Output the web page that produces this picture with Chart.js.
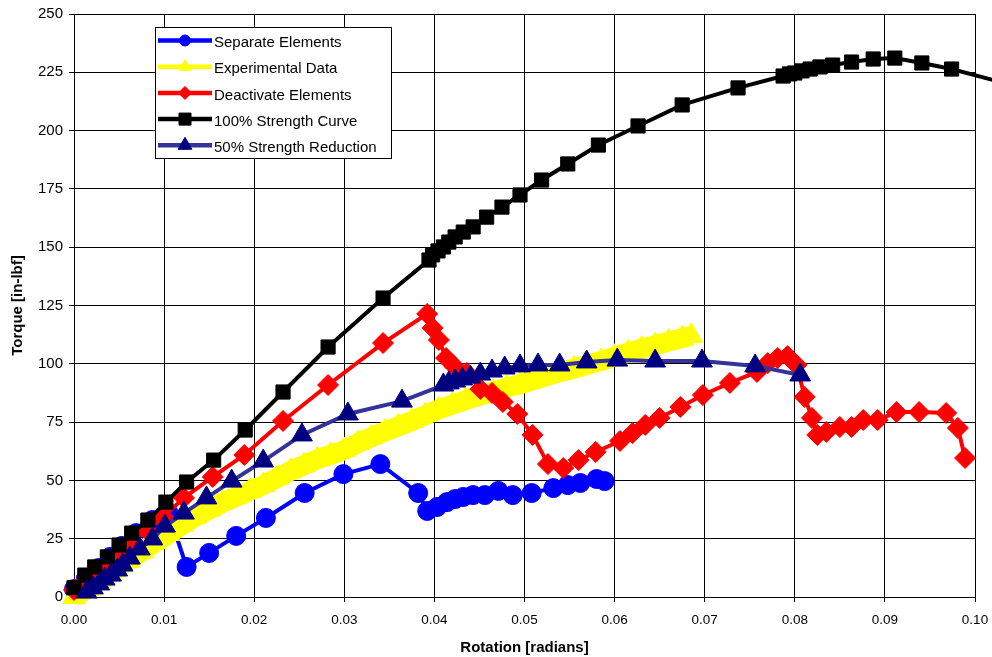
<!DOCTYPE html>
<html><head><meta charset="utf-8">
<script src="https://cdn.jsdelivr.net/npm/chart.js@4.4.1/dist/chart.umd.min.js"></script>
<style>html,body{margin:0;padding:0;background:#fff}#c{display:block}</style>
</head><body>
<canvas id="c" width="992" height="657"></canvas>
<script>
const xTickLabels = ['0.00','0.01','0.02','0.03','0.04','0.05','0.06','0.07','0.08','0.09','0.10'];
const yTickLabels = ['0','25','50','75','100','125','150','175','200','225','250'];
const seriesNames = ['Separate Elements','Experimental Data','Deactivate Elements','100% Strength Curve','50% Strength Reduction'];

const sepX = [0.0000,0.0013,0.0027,0.0040,0.0053,0.0069,0.0087,0.0105,0.0125,0.0150,0.0180,0.0213,0.0256,0.0299,0.0340,0.0382,0.0392,0.0403,0.0414,0.0423,0.0432,0.0443,0.0456,0.0471,0.0487,0.0508,0.0532,0.0548,0.0562,0.0580,0.0589];
const sepY = [3.4,7.7,12.4,17.2,21.9,27.4,33.0,36.0,12.9,18.9,26.2,33.9,44.6,52.7,57.0,44.6,36.9,38.6,40.7,42.0,42.9,43.7,43.7,45.5,43.7,44.6,46.7,48.0,48.9,50.6,49.7];

const expX = [0.0000,0.0015,0.0030,0.0045,0.0060,0.0075,0.0090,0.0105,0.0120,0.0135,0.0150,0.0165,0.0180,0.0195,0.0210,0.0225,0.0240,0.0255,0.0270,0.0285,0.0300,0.0315,0.0330,0.0345,0.0360,0.0375,0.0390,0.0405,0.0420,0.0435,0.0450,0.0465,0.0480,0.0495,0.0510,0.0525,0.0540,0.0555,0.0570,0.0585,0.0600,0.0615,0.0630,0.0645,0.0660,0.0675,0.0685];
const expY = [0,3.5,7.5,11.5,15.5,19.5,23.5,27,31,34.5,37.5,40.5,43,45.5,48,51,54,56.5,59,61,63,66,68.5,71,73.2,75.5,78,80.5,82.5,84.5,86.3,88,89.8,91.2,93,94.8,96.5,98,99.6,101.2,103,104.8,106.5,108,109.5,111,112];

const deaX = [0.0000,0.0012,0.0024,0.0038,0.0051,0.0065,0.0081,0.0099,0.0122,0.0154,0.0189,0.0232,0.0282,0.0343,0.0392,0.0398,0.0405,0.0413,0.0423,0.0436,0.0451,0.0464,0.0476,0.0492,0.0509,0.0526,0.0543,0.0560,0.0579,0.0606,0.0620,0.0634,0.0650,0.0673,0.0698,0.0728,0.0758,0.0770,0.0781,0.0792,0.0802,0.0811,0.0819,0.0825,0.0835,0.0850,0.0863,0.0876,0.0892,0.0913,0.0938,0.0968,0.0981,0.0989];
const deaY = [3.0,6.9,10.7,15.0,19.7,24.0,28.7,34.3,42.5,51.5,60.9,75.5,90.9,108.9,121.4,115.4,110.2,102.5,98.6,96.1,89.2,87.5,83.6,78.5,69.5,57.0,55.3,58.7,62.2,66.9,70.3,73.8,76.8,81.5,86.6,91.8,96.5,100.3,102.5,103.3,99.5,85.8,76.8,69.5,70.8,72.9,72.9,75.9,75.9,79.3,79.3,78.9,72.5,59.6];

const fullX = [0.0000,0.0012,0.0023,0.0037,0.0050,0.0064,0.0082,0.0102,0.0125,0.0155,0.0190,0.0232,0.0282,0.0343,0.0394,0.0398,0.0404,0.0410,0.0416,0.0423,0.0432,0.0443,0.0458,0.0475,0.0495,0.0519,0.0548,0.0582,0.0626,0.0675,0.0737,0.0787,0.0794,0.0800,0.0808,0.0817,0.0828,0.0842,0.0863,0.0887,0.0911,0.0941,0.0974,0.1020];
const fullY = [4.0,9.4,12.9,17.2,22.3,27.4,33.0,40.7,49.3,58.7,71.6,87.9,107.2,128.2,144.5,146.7,148.4,150.1,152.2,154.4,156.5,158.7,162.9,167.2,172.4,178.8,185.7,193.8,202.0,211.0,218.3,223.4,224.3,224.7,225.6,226.4,227.3,228.1,229.4,230.7,231.1,229.0,226.4,221.7];

const halfX = [0.0014,0.0021,0.0028,0.0034,0.0041,0.0048,0.0054,0.0062,0.0073,0.0087,0.0101,0.0122,0.0147,0.0175,0.0210,0.0253,0.0304,0.0364,0.0410,0.0416,0.0423,0.0431,0.0440,0.0451,0.0464,0.0478,0.0495,0.0515,0.0539,0.0569,0.0603,0.0645,0.0697,0.0756,0.0806];
const halfY = [2.1,3.9,5.6,7.7,9.4,11.6,13.7,16.7,20.6,24.9,30.4,36.0,42.5,49.7,58.3,69.5,78.5,84.0,90.9,91.8,92.6,93.5,94.3,95.6,96.9,98.2,99.1,99.5,99.5,100.8,101.6,101.2,101.2,99.1,95.2];

const pts = (xs, ys) => xs.map((x, i) => ({x, y: ys[i]}));

const FONT = "'Liberation Sans', Arial, sans-serif";
Chart.defaults.font.family = FONT;
Chart.defaults.color = '#000';

const datasets = [
  {label: seriesNames[0], data: pts(sepX, sepY), order: 5,
   borderColor: '#0000FF', backgroundColor: '#0000FF', borderWidth: 4,
   pointStyle: 'circle', pointRadius: 9.5, pointBorderWidth: 1,
   pointBackgroundColor: '#0000FF', pointBorderColor: '#0000FF', legendRadius: 5.5},
  {label: seriesNames[1], data: pts(expX, expY), order: 4,
   borderColor: '#FFFF00', backgroundColor: '#FFFF00', borderWidth: 20,
   pointStyle: 'triangle', pointRadius: 13, pointBorderWidth: 1,
   pointBackgroundColor: '#FFFF00', pointBorderColor: '#FFFF00', legendRadius: 7},
  {label: seriesNames[2], data: pts(deaX, deaY), order: 3,
   borderColor: '#FF0000', backgroundColor: '#FF0000', borderWidth: 4,
   pointStyle: 'rectRot', pointRadius: 10.5, pointBorderWidth: 1,
   pointBackgroundColor: '#FF0000', pointBorderColor: '#FF0000', legendRadius: 6.5},
  {label: seriesNames[3], data: pts(fullX, fullY), order: 2,
   borderColor: '#000000', backgroundColor: '#000000', borderWidth: 4,
   pointStyle: 'rect', pointRadius: (c) => c.dataIndex === fullX.length - 1 ? 0 : 10, pointBorderWidth: 1,
   pointBackgroundColor: '#000000', pointBorderColor: '#000000', legendRadius: 8.5},
  {label: seriesNames[4], data: pts(halfX, halfY), order: 1,
   borderColor: '#333399', backgroundColor: '#000080', borderWidth: 4,
   pointStyle: 'triangle', pointRadius: 12, pointBorderWidth: 1,
   pointBackgroundColor: '#000080', pointBorderColor: '#000080', legendRadius: 8}
];
datasets.forEach(d => { d.showLine = true; d.tension = 0; d.clip = false; });

const excelLegend = {
  id: 'excelLegend',
  afterDraw(chart) {
    const ctx = chart.ctx;
    ctx.save();
    const bx = 155.5, by = 27.5, bw = 236, bh = 131;
    ctx.fillStyle = '#fff';
    ctx.fillRect(bx, by, bw, bh);
    ctx.strokeStyle = '#000';
    ctx.lineWidth = 1;
    ctx.strokeRect(bx, by, bw, bh);
    chart.data.datasets.forEach((ds, i) => {
      const y = 40.5 + i * 26.2;
      ctx.beginPath();
      ctx.strokeStyle = ds.borderColor;
      ctx.lineWidth = 4.5;
      ctx.moveTo(158, y);
      ctx.lineTo(212, y);
      ctx.stroke();
      ctx.fillStyle = ds.pointBackgroundColor;
      ctx.strokeStyle = ds.pointBorderColor;
      ctx.lineWidth = 1;
      Chart.helpers.drawPoint(ctx, {pointStyle: ds.pointStyle, radius: ds.legendRadius, rotation: 0, borderWidth: 1}, 185, y);
      ctx.fillStyle = '#000';
      ctx.font = '15px ' + FONT;
      ctx.textBaseline = 'middle';
      ctx.textAlign = 'left';
      ctx.fillText(ds.label, 214, y + 2.5);
    });
    ctx.restore();
  }
};

new Chart(document.getElementById('c'), {
  type: 'scatter',
  data: {datasets},
  plugins: [excelLegend],
  options: {
    responsive: false,
    animation: false,
    devicePixelRatio: 1,
    layout: {padding: {top: 14, right: 17, left: 0, bottom: 0}},
    plugins: {legend: {display: false}, tooltip: {enabled: false}},
    scales: {
      x: {
        type: 'linear', min: 0, max: 0.1,
        afterFit: (s) => { s.height = 60; s.paddingLeft = 0; s.paddingRight = 0; },
        border: {color: '#000', width: 1},
        grid: {color: '#000', lineWidth: 1, tickLength: 5, drawTicks: true, tickColor: '#000'},
        ticks: {stepSize: 0.01, padding: 10, maxRotation: 0, autoSkip: false,
                font: {size: 13.5}, color: '#000',
                callback: (v, i) => xTickLabels[i]},
        title: {display: true, text: 'Rotation [radians]', font: {size: 15, weight: 'bold'}, color: '#000', padding: {top: 0, bottom: 0}}
      },
      y: {
        type: 'linear', min: 0, max: 250,
        afterFit: (s) => { s.width = 74; s.paddingTop = 0; s.paddingBottom = 0; },
        border: {color: '#000', width: 1},
        grid: {color: '#000', lineWidth: 1, tickLength: 5, drawTicks: true, tickColor: '#000'},
        ticks: {stepSize: 25, padding: 6, font: {size: 15}, color: '#000',
                callback: (v, i) => yTickLabels[i]},
        title: {display: true, text: 'Torque [in-lbf]', font: {size: 15, weight: 'bold'}, color: '#000', padding: {top: 9, bottom: 0}}
      }
    }
  },
});
</script>
</body></html>
